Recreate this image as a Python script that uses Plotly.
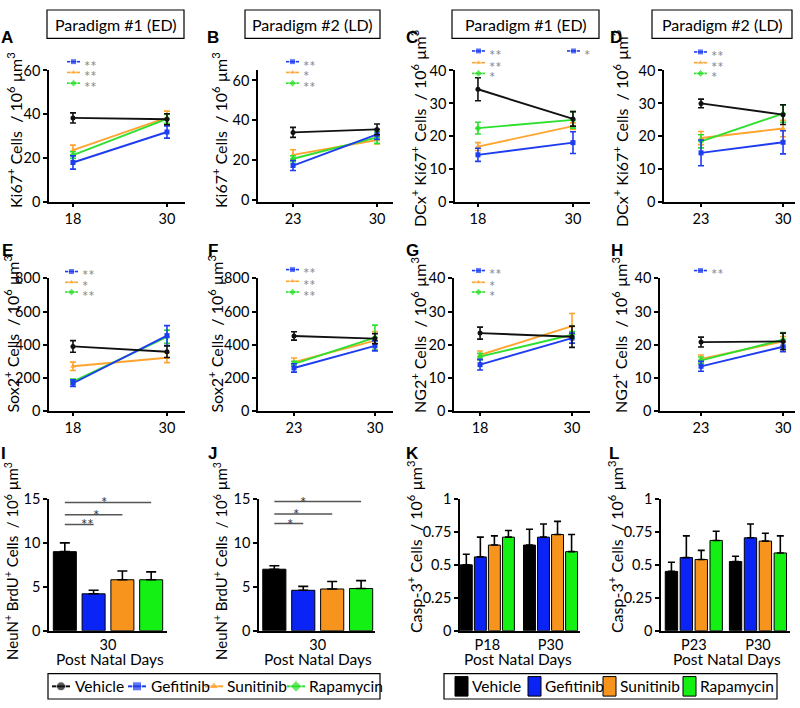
import plotly.graph_objects as go

FONT = "Lato"
W, H = 800, 708
NB = "\u00a0"

groups = ["Vehicle", "Gefitinib", "Sunitinib", "Rapamycin"]
line_colors = {"Vehicle": "#111111", "Gefitinib": "#1e3cf0", "Sunitinib": "#ffa42f", "Rapamycin": "#2ee02e"}
bar_colors = {"Vehicle": "#000000", "Gefitinib": "#0a24f5", "Sunitinib": "#f7941d", "Rapamycin": "#14f014"}
symbols = {"Vehicle": "circle", "Gefitinib": "square", "Sunitinib": "triangle-up", "Rapamycin": "diamond"}

days_ed = [18, 30]
days_ld = [23, 30]

# A: Ki67, paradigm 1
ki67_ed = {"Vehicle": [38.4, 37.8], "Gefitinib": [18.1, 32.0], "Sunitinib": [23.7, 38.5], "Rapamycin": [21.5, 38.0]}
ki67_ed_err = {"Vehicle": [2.3, 2.5], "Gefitinib": [3.0, 2.8], "Sunitinib": [2.3, 3.0], "Rapamycin": [1.5, 2.0]}
# B: Ki67, paradigm 2
ki67_ld = {"Vehicle": [34.0, 35.5], "Gefitinib": [17.4, 33.0], "Sunitinib": [22.7, 30.2], "Rapamycin": [20.8, 31.5]}
ki67_ld_err = {"Vehicle": [2.5, 2.7], "Gefitinib": [2.5, 2.5], "Sunitinib": [2.6, 2.0], "Rapamycin": [1.5, 3.0]}
# C: DCx/Ki67, paradigm 1
dcx_ed = {"Vehicle": [34.3, 25.3], "Gefitinib": [14.4, 18.1], "Sunitinib": [16.9, 23.1], "Rapamycin": [22.5, 25.0]}
dcx_ed_err = {"Vehicle": [3.5, 2.2], "Gefitinib": [2.0, 3.3], "Sunitinib": [1.2, 1.0], "Rapamycin": [1.8, 2.5]}
# D: DCx/Ki67, paradigm 2
dcx_ld = {"Vehicle": [30.0, 26.6], "Gefitinib": [15.0, 18.2], "Sunitinib": [19.5, 22.4], "Rapamycin": [18.5, 26.9]}
dcx_ld_err = {"Vehicle": [1.3, 3.0], "Gefitinib": [3.9, 3.5], "Sunitinib": [2.0, 2.5], "Rapamycin": [2.0, 2.6]}
# E: Sox2, paradigm 1
sox2_ed = {"Vehicle": [390, 358], "Gefitinib": [168, 455], "Sunitinib": [270, 322], "Rapamycin": [178, 448]}
sox2_ed_err = {"Vehicle": [35, 35], "Gefitinib": [20, 60], "Sunitinib": [25, 30], "Rapamycin": [15, 40]}
# F: Sox2, paradigm 2
sox2_ld = {"Vehicle": [453, 437], "Gefitinib": [260, 393], "Sunitinib": [295, 425], "Rapamycin": [285, 443]}
sox2_ld_err = {"Vehicle": [25, 30], "Gefitinib": [25, 30], "Sunitinib": [25, 55], "Rapamycin": [15, 75]}
# G: NG2, paradigm 1
ng2_ed = {"Vehicle": [23.5, 22.4], "Gefitinib": [14.0, 22.0], "Sunitinib": [16.9, 25.6], "Rapamycin": [16.4, 23.0]}
ng2_ed_err = {"Vehicle": [1.8, 3.2], "Gefitinib": [1.6, 1.5], "Sunitinib": [1.2, 3.8], "Rapamycin": [1.0, 1.0]}
# H: NG2, paradigm 2
ng2_ld = {"Vehicle": [20.8, 21.0], "Gefitinib": [13.5, 19.4], "Sunitinib": [15.7, 21.0], "Rapamycin": [15.3, 21.5]}
ng2_ld_err = {"Vehicle": [1.5, 2.5], "Gefitinib": [1.5, 1.5], "Sunitinib": [1.2, 1.5], "Rapamycin": [1.0, 2.2]}

# I, J: NeuN/BrdU at P30
neun_ed = [9.0, 4.2, 5.8, 5.8]
neun_ed_err = [1.0, 0.4, 1.0, 0.9]
neun_ld = [7.0, 4.6, 4.75, 4.8]
neun_ld_err = [0.4, 0.45, 0.85, 0.9]
neun_ed_sig = [(1, "**"), (2, "*"), (3, "*")]
neun_ld_sig = [(1, "*"), (2, "*"), (3, "*")]

# K, L: Casp-3
casp_ed_days = ["P18", "P30"]
casp_ed = {"Vehicle": [0.50, 0.65], "Gefitinib": [0.56, 0.71], "Sunitinib": [0.65, 0.73], "Rapamycin": [0.71, 0.60]}
casp_ed_err = {"Vehicle": [0.08, 0.12], "Gefitinib": [0.15, 0.10], "Sunitinib": [0.07, 0.10], "Rapamycin": [0.05, 0.13]}
casp_ld_days = ["P23", "P30"]
casp_ld = {"Vehicle": [0.45, 0.525], "Gefitinib": [0.555, 0.705], "Sunitinib": [0.54, 0.68], "Rapamycin": [0.685, 0.59]}
casp_ld_err = {"Vehicle": [0.07, 0.04], "Gefitinib": [0.165, 0.105], "Sunitinib": [0.07, 0.06], "Rapamycin": [0.07, 0.13]}

# significance labels next to line panels
sig_a = [("Gefitinib", "**"), ("Sunitinib", "**"), ("Rapamycin", "**")]
sig_b = [("Gefitinib", "**"), ("Sunitinib", "*"), ("Rapamycin", "**")]
sig_c = [("Gefitinib", "**"), ("Sunitinib", "**"), ("Rapamycin", "*")]
sig_c_extra = [("Gefitinib", "*")]
sig_d = [("Gefitinib", "**"), ("Sunitinib", "**"), ("Rapamycin", "*")]
sig_e = [("Gefitinib", "**"), ("Sunitinib", "*"), ("Rapamycin", "**")]
sig_f = [("Gefitinib", "**"), ("Sunitinib", "**"), ("Rapamycin", "**")]
sig_g = [("Gefitinib", "**"), ("Sunitinib", "*"), ("Rapamycin", "*")]
sig_h = [("Gefitinib", "**")]

unit = f"{NB}/{NB}10<sup>6</sup>{NB}µm<sup>3</sup>"
ytitle_ki67 = f"Ki67<sup>+</sup>{NB}Cells{NB}" + unit
ytitle_dcx = f"DCx<sup>+</sup>{NB}Ki67<sup>+</sup>{NB}Cells{NB}" + unit
ytitle_sox2 = f"Sox2<sup>+</sup>{NB}Cells{NB}" + unit
ytitle_ng2 = f"NG2<sup>+</sup>{NB}Cells{NB}" + unit
ytitle_neun = f"NeuN<sup>+</sup>{NB}BrdU<sup>+</sup>{NB}Cells{NB}" + unit
ytitle_casp = f"Casp-3<sup>+</sup>{NB}Cells{NB}" + unit

TITLE_SIZE = 16
TICK_SIZE = 14.5

fig = go.Figure()
layout = {}
annotations = []
shapes = []


def dom_x(a, b):
    return [a / W, b / W]


def dom_y(top, bottom):
    return [1 - bottom / H, 1 - top / H]


def axis_base():
    return dict(showline=True, linecolor="black", linewidth=1.6, showgrid=False, zeroline=False,
                ticks="outside", ticklen=4, tickwidth=1.6, tickcolor="black",
                tickfont=dict(family=FONT, size=TICK_SIZE, color="black"), fixedrange=True)


def ids(k):
    xa = "x" if k == 1 else f"x{k}"
    ya = "y" if k == 1 else f"y{k}"
    return xa, ya, ("xaxis" if k == 1 else f"xaxis{k}"), ("yaxis" if k == 1 else f"yaxis{k}")


def ytitle(text, x, ybottom, size=TITLE_SIZE):
    annotations.append(dict(xref="x13", yref="y13", x=x, y=ybottom, text=text, textangle=-90,
                            xanchor="center", yanchor="bottom", showarrow=False,
                            font=dict(family=FONT, size=size, color="black")))


line_panels = [
    # k, means, errs, days, box(px), xrange, yrange, ytickvals, ytitle, title x, title y-bottom
    (1, ki67_ed, ki67_ed_err, days_ed, (49, 185, 63, 198), [14.94, 32.3], [0, 60], [0, 20, 40, 60], ytitle_ki67, 14, 206),
    (2, ki67_ld, ki67_ld_err, days_ld, (258, 393, 63, 198), [20.08, 31.33], [-1, 65], [0, 20, 40, 60], ytitle_ki67, 219, 206),
    (3, dcx_ed, dcx_ed_err, days_ed, (455, 590, 63, 198), [15.1, 32.15], [0, 40], [0, 10, 20, 30, 40], ytitle_dcx, 418, 226),
    (4, dcx_ld, dcx_ld_err, days_ld, (664, 795, 63, 198), [19.84, 31.02], [0, 40], [0, 10, 20, 30, 40], ytitle_dcx, 620, 226),
    (5, sox2_ed, sox2_ed_err, days_ed, (49, 185, 276, 412), [14.94, 32.3], [0, 800], [0, 200, 400, 600, 800], ytitle_sox2, 12, 416),
    (6, sox2_ld, sox2_ld_err, days_ld, (258, 393, 276, 412), [19.89, 31.56], [0, 800], [0, 200, 400, 600, 800], ytitle_sox2, 216, 416),
    (7, ng2_ed, ng2_ed_err, days_ed, (454, 590, 276, 412), [14.6, 32.35], [0, 40], [0, 10, 20, 30, 40], ytitle_ng2, 418, 416),
    (8, ng2_ld, ng2_ld_err, days_ld, (660, 795, 276, 412), [19.5, 31.02], [0, 40], [0, 10, 20, 30, 40], ytitle_ng2, 619, 416),
]

draw_order = ["Sunitinib", "Rapamycin", "Gefitinib", "Vehicle"]

for (k, means, errs, days, box, xr, yr, ytv, yt, tx, tyb) in line_panels:
    xa, ya, xk, yk = ids(k)
    x0, x1, top, bottom = box
    xax = axis_base()
    xax.update(domain=dom_x(x0, x1), range=xr, tickvals=days, ticklen=3, anchor=ya)
    yax = axis_base()
    yax.update(domain=dom_y(top, bottom), range=yr, tickvals=ytv, anchor=xa)
    layout[xk] = xax
    layout[yk] = yax
    for g in draw_order:
        c = line_colors[g]
        fig.add_trace(go.Scatter(
            x=days, y=means[g], mode="lines+markers", xaxis=xa, yaxis=ya,
            line=dict(color=c, width=1.9),
            marker=dict(symbol=symbols[g], size=5, color=c),
            error_y=dict(type="data", array=errs[g], color=c, thickness=1.6, width=3),
            showlegend=False, cliponaxis=False, hoverinfo="skip"))
    ytitle(yt, tx, tyb)

# NeuN bar panels (I, J)
bar_panels = [
    (9, neun_ed, neun_ed_err, neun_ed_sig, (49, 167, 502, 637), [-0.55, 3.55], 12, 669,
     [12.1, 13.2, 14.6], [0.8, 1.1, 1.35], 110),
    (10, neun_ld, neun_ld_err, neun_ld_sig, (259, 375, 502, 637), [-0.53, 3.48], 221, 669,
     [12.2, 13.3, 14.7], [0.55, 0.75, 1.0], 318),
]
for (k, vals, errs, sigs, box, xr, tx, tyb, levels, starx, pnd_x) in bar_panels:
    xa, ya, xk, yk = ids(k)
    x0, x1, top, bottom = box
    xax = axis_base()
    xax.update(domain=dom_x(x0, x1), range=xr, tickvals=[(len(vals) - 1) / 2], ticktext=["30"],
               ticks="", anchor=ya)
    yax = axis_base()
    yax.update(domain=dom_y(top, bottom), range=[0, 15], tickvals=[0, 5, 10, 15], anchor=xa)
    layout[xk] = xax
    layout[yk] = yax
    fig.add_trace(go.Bar(
        x=list(range(len(vals))), y=vals, width=0.8, xaxis=xa, yaxis=ya,
        marker=dict(color=[bar_colors[g] for g in groups], line=dict(color="black", width=1)),
        error_y=dict(type="data", array=errs, arrayminus=[0] * len(vals), symmetric=False,
                     color="black", thickness=1.6, width=5),
        showlegend=False, hoverinfo="skip"))
    for (target, stars), lvl, sx in zip(sigs, levels, starx):
        shapes.append(dict(type="line", xref=xa, yref=ya, x0=0, x1=target, y0=lvl, y1=lvl,
                           line=dict(color="#555555", width=1.5)))
        annotations.append(dict(xref=xa, yref=ya, x=sx, y=lvl, text=stars, showarrow=False,
                                xanchor="center", yanchor="middle",
                                font=dict(family=FONT, size=15, color="#333333")))
    ytitle(ytitle_neun, tx, tyb, size=15)
    annotations.append(dict(xref="x13", yref="y13", x=pnd_x, y=666, text="Post Natal Days",
                            showarrow=False, xanchor="center", yanchor="middle",
                            font=dict(family=FONT, size=15.5, color="black")))

# Casp-3 bar panels (K, L)
casp_panels = [
    (11, casp_ed, casp_ed_err, casp_ed_days, (460, 580, 502, 637), [-0.45, 8.1], 4.5, 0.85, 414, 642, 518),
    (12, casp_ld, casp_ld_err, casp_ld_days, (661, 790, 502, 637), [-0.7, 7.95], 4.3, 0.83, 615, 642, 727),
]
for (k, vals, errs, days, box, xr, gstep, bw, tx, tyb, pnd_x) in casp_panels:
    xa, ya, xk, yk = ids(k)
    x0, x1, top, bottom = box
    xax = axis_base()
    centers = [d * gstep + (len(groups) - 1) / 2 for d in range(len(days))]
    xax.update(domain=dom_x(x0, x1), range=xr, tickvals=centers, ticktext=days, ticks="", anchor=ya)
    yax = axis_base()
    yax.update(domain=dom_y(top, bottom), range=[0, 1], tickvals=[0, 0.25, 0.5, 0.75, 1], anchor=xa)
    layout[xk] = xax
    layout[yk] = yax
    for gi, g in enumerate(groups):
        fig.add_trace(go.Bar(
            x=[d * gstep + gi for d in range(len(days))], y=vals[g], width=bw, xaxis=xa, yaxis=ya,
            marker=dict(color=bar_colors[g], line=dict(color="black", width=1)),
            error_y=dict(type="data", array=errs[g], arrayminus=[0] * len(days), symmetric=False,
                         color="black", thickness=1.6, width=3.5),
            showlegend=False, hoverinfo="skip"))
    ytitle(ytitle_casp, tx, tyb)
    annotations.append(dict(xref="x13", yref="y13", x=pnd_x, y=666, text="Post Natal Days",
                            showarrow=False, xanchor="center", yanchor="middle",
                            font=dict(family=FONT, size=15.5, color="black")))

# overlay axis in pixel units for decorations
layout["xaxis13"] = dict(domain=[0, 1], range=[0, W], visible=False, fixedrange=True, anchor="y13")
layout["yaxis13"] = dict(domain=[0, 1], range=[H, 0], visible=False, fixedrange=True, anchor="x13")


def sig_marker(g, x0, y, stars):
    c = line_colors[g]
    fig.add_trace(go.Scatter(
        x=[x0, x0 + 6.5, x0 + 13], y=[y, y, y], mode="lines+markers", xaxis="x13", yaxis="y13",
        line=dict(color=c, width=1.6), marker=dict(symbol=symbols[g], size=[0, 6, 0], color=c),
        showlegend=False, hoverinfo="skip", cliponaxis=False))
    annotations.append(dict(xref="x13", yref="y13", x=x0 + 15, y=y + 4, text=stars, showarrow=False,
                            xanchor="left", yanchor="middle",
                            font=dict(family=FONT, size=15, color="#8a8a8a")))


row_of = {"Gefitinib": 0, "Sunitinib": 1, "Rapamycin": 2}
sig_spec = [
    (sig_a, 67, [54, 65, 76]),
    (sig_b, 286, [54, 65, 76]),
    (sig_c, 472, [43, 55, 66]),
    (sig_c_extra, 567, [43, 55, 66]),
    (sig_d, 694, [44, 55, 66]),
    (sig_e, 65, [269, 280, 290]),
    (sig_f, 286, [267, 279, 290]),
    (sig_g, 472, [268, 280, 290]),
    (sig_h, 694, [268, 280, 290]),
]
for sigs, sx, ys in sig_spec:
    for g, stars in sigs:
        sig_marker(g, sx, ys[row_of[g]], stars)

# panel letters
letters = [("A", 7, 29), ("B", 213, 29), ("C", 412, 29), ("D", 616, 29),
           ("E", 7, 247), ("F", 213, 247), ("G", 412, 247), ("H", 617, 247),
           ("I", 3, 455), ("J", 212, 455), ("K", 412, 455), ("L", 614, 455)]
for t, x, y in letters:
    annotations.append(dict(xref="x13", yref="y13", x=x, y=y, text=f"<b>{t}</b>", showarrow=False,
                            xanchor="center", yanchor="middle",
                            font=dict(family="Liberation Sans", size=17, color="black")))

# paradigm title boxes
titles = [("Paradigm #1 (ED)", 47, 184), ("Paradigm #2 (LD)", 245, 380),
          ("Paradigm #1 (ED)", 452, 599), ("Paradigm #2 (LD)", 652, 792)]
for t, a, b in titles:
    shapes.append(dict(type="rect", xref="x13", yref="y13", x0=a, x1=b, y0=1, y1=30,
                       line=dict(color="black", width=1.2)))
    annotations.append(dict(xref="x13", yref="y13", x=(a + b) / 2, y=16, text=t, showarrow=False,
                            xanchor="center", yanchor="middle",
                            font=dict(family=FONT, size=16, color="black")))

# legend (lines)
shapes.append(dict(type="rect", xref="x13", yref="y13", x0=48, x1=380, y0=681, y1=707,
                   line=dict(color="black", width=1.2)))
line_leg = [("Vehicle", 52, 73), ("Gefitinib", 128, 149), ("Sunitinib", 205, 225), ("Rapamycin", 287, 307)]
for g, sx, tx in line_leg:
    c = line_colors[g]
    fig.add_trace(go.Scatter(
        x=[sx, sx + 9, sx + 18], y=[694, 694, 694], mode="lines+markers", xaxis="x13", yaxis="y13",
        line=dict(color=c, width=2), marker=dict(symbol=symbols[g], size=[0, 9, 0], color=c),
        showlegend=False, hoverinfo="skip", cliponaxis=False))
    annotations.append(dict(xref="x13", yref="y13", x=tx, y=694, text=g, showarrow=False,
                            xanchor="left", yanchor="middle",
                            font=dict(family=FONT, size=15.5, color="black")))

# legend (bars)
shapes.append(dict(type="rect", xref="x13", yref="y13", x0=444, x1=777, y0=681, y1=707,
                   line=dict(color="black", width=1.2)))
bar_leg = [("Vehicle", 455, 470), ("Gefitinib", 528, 543), ("Sunitinib", 603, 618), ("Rapamycin", 683, 698)]
for g, sx, tx in bar_leg:
    shapes.append(dict(type="rect", xref="x13", yref="y13", x0=sx, x1=sx + 13, y0=684, y1=704,
                       fillcolor=bar_colors[g], line=dict(color="black", width=1)))
    annotations.append(dict(xref="x13", yref="y13", x=tx, y=694, text=g, showarrow=False,
                            xanchor="left", yanchor="middle",
                            font=dict(family=FONT, size=15.5, color="black")))

fig.update_layout(
    width=W, height=H, margin=dict(l=0, r=0, t=0, b=0),
    paper_bgcolor="white", plot_bgcolor="rgba(0,0,0,0)",
    font=dict(family=FONT, size=15, color="black"),
    showlegend=False, annotations=annotations, shapes=shapes,
    **layout)

fig.write_html("out.html", config={"displayModeBar": False},
               post_script="document.body.style.margin='0px';document.body.style.overflow='hidden';")
